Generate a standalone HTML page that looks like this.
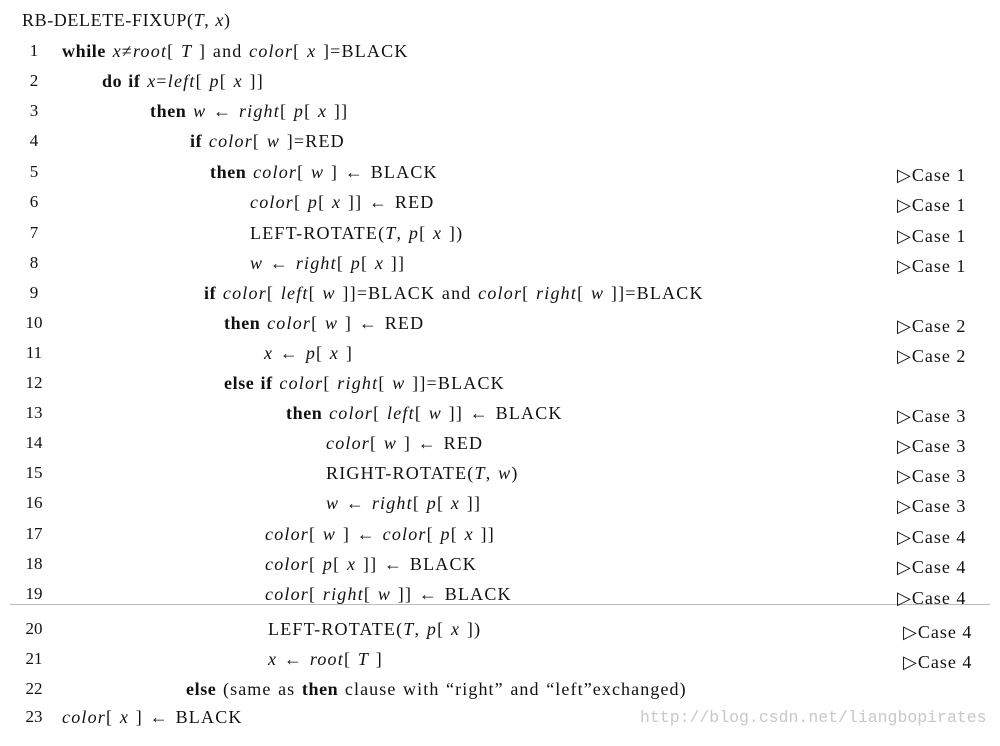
<!DOCTYPE html>
<html><head><meta charset="utf-8"><style>
body{margin:0;background:#fff;}
#c{position:relative;width:1000px;height:746px;overflow:hidden;background:#fff;font-family:"Liberation Serif",serif;font-size:18px;color:#111;}
.l{position:absolute;line-height:20px;white-space:nowrap;letter-spacing:1.2px;word-spacing:1px;}
i{font-style:italic;}
b{font-weight:bold;letter-spacing:0.6px;}
.n{position:absolute;left:24px;width:20px;text-align:center;line-height:20px;font-size:17px;}
.cs{position:absolute;line-height:20px;white-space:nowrap;letter-spacing:1px;}
.hr{position:absolute;left:10px;top:604px;width:980px;height:1px;background:#bbb;}
.wm{position:absolute;left:640px;top:708px;font-family:"Liberation Mono",monospace;font-size:16.5px;color:#c8c8c8;line-height:20px;}
</style></head><body><div id="c">
<div class="l" style="left:22px;top:10px;letter-spacing:0.6px">RB-DELETE-FIXUP(<i>T</i>, <i>x</i>)</div>

<div class="n" style="top:41px">1</div><div class="l" style="left:62px;top:41px"><b>while</b> <i>x</i>≠<i>root</i>[ <i>T</i> ] and <i>color</i>[ <i>x</i> ]=BLACK</div>
<div class="n" style="top:71px">2</div><div class="l" style="left:102px;top:71px"><b>do if</b> <i>x</i>=<i>left</i>[ <i>p</i>[ <i>x</i> ]]</div>
<div class="n" style="top:101px">3</div><div class="l" style="left:150px;top:101px"><b>then</b> <i>w</i> ← <i>right</i>[ <i>p</i>[ <i>x</i> ]]</div>
<div class="n" style="top:131px">4</div><div class="l" style="left:190px;top:131px"><b>if</b> <i>color</i>[ <i>w</i> ]=RED</div>
<div class="n" style="top:162px">5</div><div class="l" style="left:210px;top:162px"><b>then</b> <i>color</i>[ <i>w</i> ] ← BLACK</div>
<div class="n" style="top:192px">6</div><div class="l" style="left:250px;top:192px"><i>color</i>[ <i>p</i>[ <i>x</i> ]] ← RED</div>
<div class="n" style="top:223px">7</div><div class="l" style="left:250px;top:223px">LEFT-ROTATE(<i>T</i>, <i>p</i>[ <i>x</i> ])</div>
<div class="n" style="top:253px">8</div><div class="l" style="left:250px;top:253px"><i>w</i> ← <i>right</i>[ <i>p</i>[ <i>x</i> ]]</div>
<div class="n" style="top:283px">9</div><div class="l" style="left:204px;top:283px"><b>if</b> <i>color</i>[ <i>left</i>[ <i>w</i> ]]=BLACK and <i>color</i>[ <i>right</i>[ <i>w</i> ]]=BLACK</div>
<div class="n" style="top:313px">10</div><div class="l" style="left:224px;top:313px"><b>then</b> <i>color</i>[ <i>w</i> ] ← RED</div>
<div class="n" style="top:343px">11</div><div class="l" style="left:264px;top:343px"><i>x</i> ← <i>p</i>[ <i>x</i> ]</div>
<div class="n" style="top:373px">12</div><div class="l" style="left:224px;top:373px"><b>else if</b> <i>color</i>[ <i>right</i>[ <i>w</i> ]]=BLACK</div>
<div class="n" style="top:403px">13</div><div class="l" style="left:286px;top:403px"><b>then</b> <i>color</i>[ <i>left</i>[ <i>w</i> ]] ← BLACK</div>
<div class="n" style="top:433px">14</div><div class="l" style="left:326px;top:433px"><i>color</i>[ <i>w</i> ] ← RED</div>
<div class="n" style="top:463px">15</div><div class="l" style="left:326px;top:463px">RIGHT-ROTATE(<i>T</i>, <i>w</i>)</div>
<div class="n" style="top:493px">16</div><div class="l" style="left:326px;top:493px"><i>w</i> ← <i>right</i>[ <i>p</i>[ <i>x</i> ]]</div>
<div class="n" style="top:524px">17</div><div class="l" style="left:265px;top:524px"><i>color</i>[ <i>w</i> ] ← <i>color</i>[ <i>p</i>[ <i>x</i> ]]</div>
<div class="n" style="top:554px">18</div><div class="l" style="left:265px;top:554px"><i>color</i>[ <i>p</i>[ <i>x</i> ]] ← BLACK</div>
<div class="n" style="top:584px">19</div><div class="l" style="left:265px;top:584px"><i>color</i>[ <i>right</i>[ <i>w</i> ]] ← BLACK</div>
<div class="hr"></div>
<div class="n" style="top:619px">20</div><div class="l" style="left:268px;top:619px">LEFT-ROTATE(<i>T</i>, <i>p</i>[ <i>x</i> ])</div>
<div class="n" style="top:649px">21</div><div class="l" style="left:268px;top:649px"><i>x</i> ← <i>root</i>[ <i>T</i> ]</div>
<div class="n" style="top:679px">22</div><div class="l" style="left:186px;top:679px;letter-spacing:1.1px"><b>else</b> (same as <b>then</b> clause with “right” and “left”exchanged)</div>
<div class="n" style="top:707px">23</div><div class="l" style="left:62px;top:707px"><i>color</i>[ <i>x</i> ] ← BLACK</div>

<div class="cs" style="left:897px;top:165px">▷Case 1</div>
<div class="cs" style="left:897px;top:195px">▷Case 1</div>
<div class="cs" style="left:897px;top:226px">▷Case 1</div>
<div class="cs" style="left:897px;top:256px">▷Case 1</div>
<div class="cs" style="left:897px;top:316px">▷Case 2</div>
<div class="cs" style="left:897px;top:346px">▷Case 2</div>
<div class="cs" style="left:897px;top:406px">▷Case 3</div>
<div class="cs" style="left:897px;top:436px">▷Case 3</div>
<div class="cs" style="left:897px;top:466px">▷Case 3</div>
<div class="cs" style="left:897px;top:496px">▷Case 3</div>
<div class="cs" style="left:897px;top:527px">▷Case 4</div>
<div class="cs" style="left:897px;top:557px">▷Case 4</div>
<div class="cs" style="left:897px;top:588px">▷Case 4</div>
<div class="cs" style="left:903px;top:622px">▷Case 4</div>
<div class="cs" style="left:903px;top:652px">▷Case 4</div>
<div class="wm">http://blog.csdn.net/liangbopirates</div>
</div></body></html>
